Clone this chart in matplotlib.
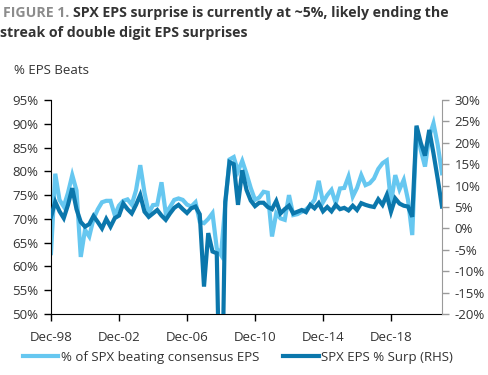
import matplotlib
matplotlib.use("Agg")
import matplotlib.pyplot as plt
import numpy as np

plt.rcParams['font.family'] = ['Open Sans', 'DejaVu Sans']

# trimestres de Dec-98 a Dec-21
tick_labels = ['Dec-98', 'Dec-02', 'Dec-06', 'Dec-10', 'Dec-14', 'Dec-18']

# % des societes du SPX qui battent le consensus (axe gauche)
beats = [62.8, 79.5, 74.0, 72.6, 75.5, 79.2, 76.0, 62.0, 67.7, 66.3,
         70.0, 72.0, 73.5, 73.8, 73.8, 70.8, 72.8, 73.8, 74.1, 73.0,
         76.0, 81.3, 75.5, 71.2, 72.9, 73.0, 77.7, 71.2, 72.5, 74.0,
         74.3, 74.0, 73.0, 72.6, 73.5, 69.4, 69.1, 70.0, 71.2, 63.8,
         62.4, 73.0, 82.5, 83.0, 80.0, 82.2, 79.5, 76.5, 74.0, 74.5,
         75.7, 75.5, 66.3, 71.2, 70.1, 69.8, 75.0, 70.8, 71.0, 71.5,
         72.0, 72.8, 74.0, 78.0, 73.5, 75.0, 76.1, 73.3, 76.4, 76.5,
         78.9, 74.7, 76.5, 79.2, 77.1, 77.5, 78.5, 80.5, 81.7, 82.3,
         73.3, 79.2, 76.2, 78.2, 74.0, 66.6, 89.2, 84.5, 81.0, 87.3,
         90.1, 85.5, 79.6]

# surprise EPS du SPX en % (axe droit)
surp = [2.7, 6.2, 4.0, 2.4, 5.5, 9.4, 4.5, 1.5, 0.4, 1.0,
        2.9, 1.5, 0.0, 2.2, 0.4, 2.4, 3.0, 5.8, 4.5, 3.5,
        5.5, 7.8, 3.9, 2.7, 3.5, 4.3, 3.0, 2.0, 3.5, 4.8,
        5.5, 4.5, 3.6, 4.7, 5.1, 3.3, -13.6, -1.1, -5.4, -5.8,
        -55.0, 6.2, 15.5, 15.0, 5.5, 13.6, 9.0, 6.5, 5.2, 6.0,
        6.0, 5.0, 4.5, 6.4, 3.5, 4.5, 5.3, 3.5, 3.9, 4.3,
        3.8, 5.5, 4.7, 5.9, 4.0, 5.0, 4.0, 5.5, 4.5, 4.8,
        4.2, 5.3, 4.3, 5.9, 5.5, 5.2, 5.0, 6.8, 5.5, 7.8,
        3.9, 7.0, 5.8, 5.3, 5.1, 2.7, 24.0, 20.0, 17.0, 23.0,
        17.5, 11.5, 5.1]

x = np.arange(len(beats))
light = '#66C7F0'
dark = '#0B77AC'
txt = '#333333'

fig = plt.figure(figsize=(4.89, 3.75), dpi=100)
ax = fig.add_axes([51/489, 1-314/375, 391/489, 214/375])
ax2 = ax.twinx()

l1, = ax.plot(x, beats, color=light, lw=3, solid_joinstyle='miter')
l2, = ax2.plot(x, surp, color=dark, lw=3, solid_joinstyle='miter')

ax.set_xlim(0, len(beats) - 1)
ax.set_ylim(50, 95)
ax.set_yticks(np.arange(50, 96, 5))
ax.set_yticklabels(['%d%%' % v for v in range(50, 96, 5)])
ax2.set_ylim(-20, 30)
ax2.set_yticks(np.arange(-20, 31, 5))
ax2.set_yticklabels(['%d%%' % v for v in range(-20, 31, 5)])
ax.set_xticks(np.arange(0, 81, 16))
ax.set_xticklabels(tick_labels)

for a in (ax, ax2):
    a.spines['top'].set_visible(False)
ax.spines['right'].set_visible(False)
ax2.spines['left'].set_visible(False)
ax2.spines['bottom'].set_visible(False)
ax.spines['left'].set_color('black')
ax.spines['bottom'].set_color('black')
ax2.spines['right'].set_color('#9a9a9a')
ax.tick_params(axis='y', length=5, width=1, colors='black', labelcolor=txt, labelsize=9.5, pad=4)
ax.tick_params(axis='x', length=5, width=1, colors='black', labelcolor=txt, labelsize=9.5, pad=7)
ax2.tick_params(axis='y', length=5, width=1, colors='#9a9a9a', labelcolor=txt, labelsize=9.5, pad=4)

fig.text(14/489, 1-71/375, '% EPS Beats', fontsize=9.5, color=txt, va='center')

# titre en deux couleurs
t1 = fig.text(3/489, 1-13/375, 'FIGURE 1.', fontsize=10.2, weight='bold', color='#8c8c8c', va='center')
fig.canvas.draw()
bb = t1.get_window_extent()
fig.text((bb.x1 + 4)/489, 1-13/375, 'SPX EPS surprise is currently at ~5%, likely ending the',
         fontsize=10.2, weight='bold', color='#333333', va='center')
fig.text(0/489, 1-33/375, 'streak of double digit EPS surprises', fontsize=10.2, weight='bold',
         color='#333333', va='center')

fig.legend([l1, l2], ['% of SPX beating consensus EPS', 'SPX EPS % Surp (RHS)'],
           loc='center', bbox_to_anchor=(238/489, 1-357/375), ncol=2, frameon=False,
           fontsize=9.5, handlelength=2.7, handletextpad=0.2, columnspacing=1.8,
           labelcolor=txt)

fig.savefig('out.png', dpi=100)
